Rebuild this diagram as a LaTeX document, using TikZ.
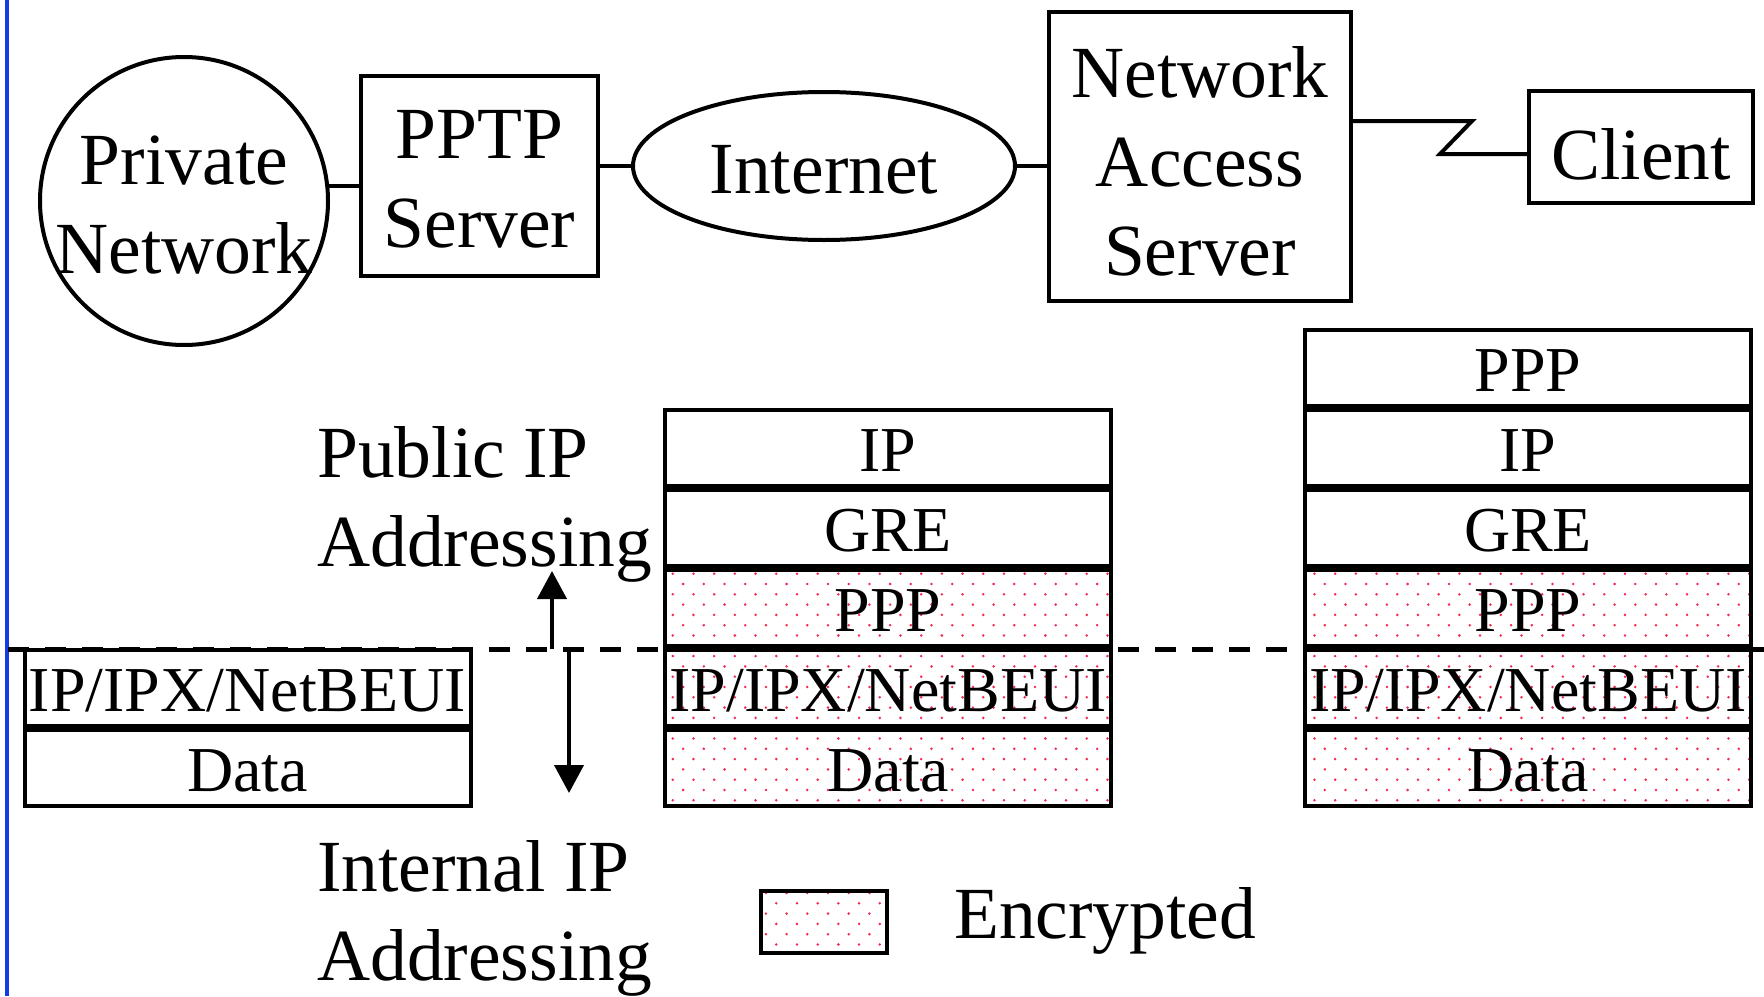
\documentclass[tikz,border=0pt]{standalone}
\usepackage{fontspec}
\setmainfont{Liberation Serif}
\usetikzlibrary{shapes.geometric,arrows.meta,patterns}

\definecolor{encred}{RGB}{245,40,80}
\definecolor{edgeblue}{RGB}{20,60,230}

\pgfdeclarepatternformonly{encdots}{\pgfqpoint{-2pt}{-2pt}}{\pgfqpoint{12.4pt}{12.4pt}}{\pgfqpoint{20.7pt}{20.6pt}}{
  \pgfpathcircle{\pgfqpoint{0pt}{0pt}}{1.4pt}
  \pgfpathcircle{\pgfqpoint{10.35pt}{10.3pt}}{1.4pt}
  \pgfusepath{fill}
}

\begin{document}
\begin{tikzpicture}[x=1pt, y=-1pt,
    font=\fontsize{73.5}{89}\selectfont,
    box/.style={draw, line width=4pt, inner sep=0pt},
    tag/.style={align=center, yshift=-4.5pt},
    wire/.style={line width=4pt},
    layer/.style={draw, line width=4pt, fill=white, inner sep=0pt,
        minimum width=446pt, minimum height=76pt,
        text height=60pt, text depth=13pt,
        font=\fontsize{64}{77}\selectfont},
    enc/.style={layer, fill=none, pattern=encdots, pattern color=encred},
    cut/.style={line width=5pt, dash pattern=on 21pt off 16pt},
    updown/.style={line width=4pt, -{Triangle[length=28pt, width=29pt]}}
    ]
    \useasboundingbox (0,0) rectangle (1764,996);
    \draw[line width=4pt, edgeblue] (7,0) -- (7,996);

    % network
    \node[box, circle, minimum size=288pt,
        label={[tag]center:Private\\Network}] (priv) at (184,201) {};
    \node[box, minimum width=237pt, minimum height=200pt,
        label={[tag, yshift=1pt]center:PPTP\\Server}] (pptp) at (479.5,176) {};
    \node[box, ellipse, minimum width=382pt, minimum height=148pt,
        label={[tag, yshift=1pt]center:Internet}] (inet) at (824,166) {};
    \node[box, minimum width=302pt, minimum height=289pt,
        label={[tag]center:Network\\Access\\Server}] (nas) at (1200,156.5) {};
    \node[box, minimum width=224pt, minimum height=112pt,
        label={[tag, yshift=-2.5pt]center:Client}] (client) at (1641,147) {};

    \draw[wire] (priv.6) -- (priv.6 -| pptp.west);
    \draw[wire] (inet.west) -- (inet.west -| pptp.east);
    \draw[wire] (inet.east) -- (inet.east -| nas.west);
    \draw[wire] ([yshift=-7pt]client.west) -- ++(-87,0) -- ++(32,-33) coordinate (zz) -- (zz -| nas.east);

    % address boundary
    \coordinate (cutL) at (8,649);
    \coordinate (cutR) at (1764,649);
    \draw[cut] (cutL) -- (cutR);

    % stacks
    \node[layer] (l4) at (247.5,688) {IP/IPX/NetBEUI};
    \node[layer] (l5) at (247.5,768) {Data};

    \node[layer] (m1) at (888,448) {IP};
    \node[layer] (m2) at (888,528) {GRE};
    \node[enc] (m3) at (888,608) {PPP};
    \node[enc] (m4) at (888,688) {IP/IPX/NetBEUI};
    \node[enc] (m5) at (888,768) {Data};

    \node[layer] (r0) at (1528,368) {PPP};
    \node[layer] (r1) at (1528,448) {IP};
    \node[layer] (r2) at (1528,528) {GRE};
    \node[enc] (r3) at (1528,608) {PPP};
    \node[enc] (r4) at (1528,688) {IP/IPX/NetBEUI};
    \node[enc] (r5) at (1528,768) {Data};

    % addressing
    \coordinate (upFoot) at (552,649);
    \coordinate (upTip) at (552,571);
    \coordinate (dnFoot) at (569,649);
    \coordinate (dnTip) at (569,793);
    \draw[updown] (upFoot) -- (upTip);
    \draw[updown] (dnFoot) -- (dnTip);
    \node[align=left, anchor=west, inner sep=0pt] (pubtxt) at (317,504) {Public IP\\Addressing};
    \node[align=left, anchor=west, inner sep=0pt] (inttxt) at (317,918) {Internal IP\\Addressing};

    % legend
    \node[draw, line width=4pt, minimum width=126pt, minimum height=62pt, inner sep=0pt,
        pattern=encdots, pattern color=encred] (legbox) at (824,922) {};
    \node[anchor=base west, inner sep=0pt] (legtxt) at (954,938) {Encrypted};
\end{tikzpicture}
\end{document}
